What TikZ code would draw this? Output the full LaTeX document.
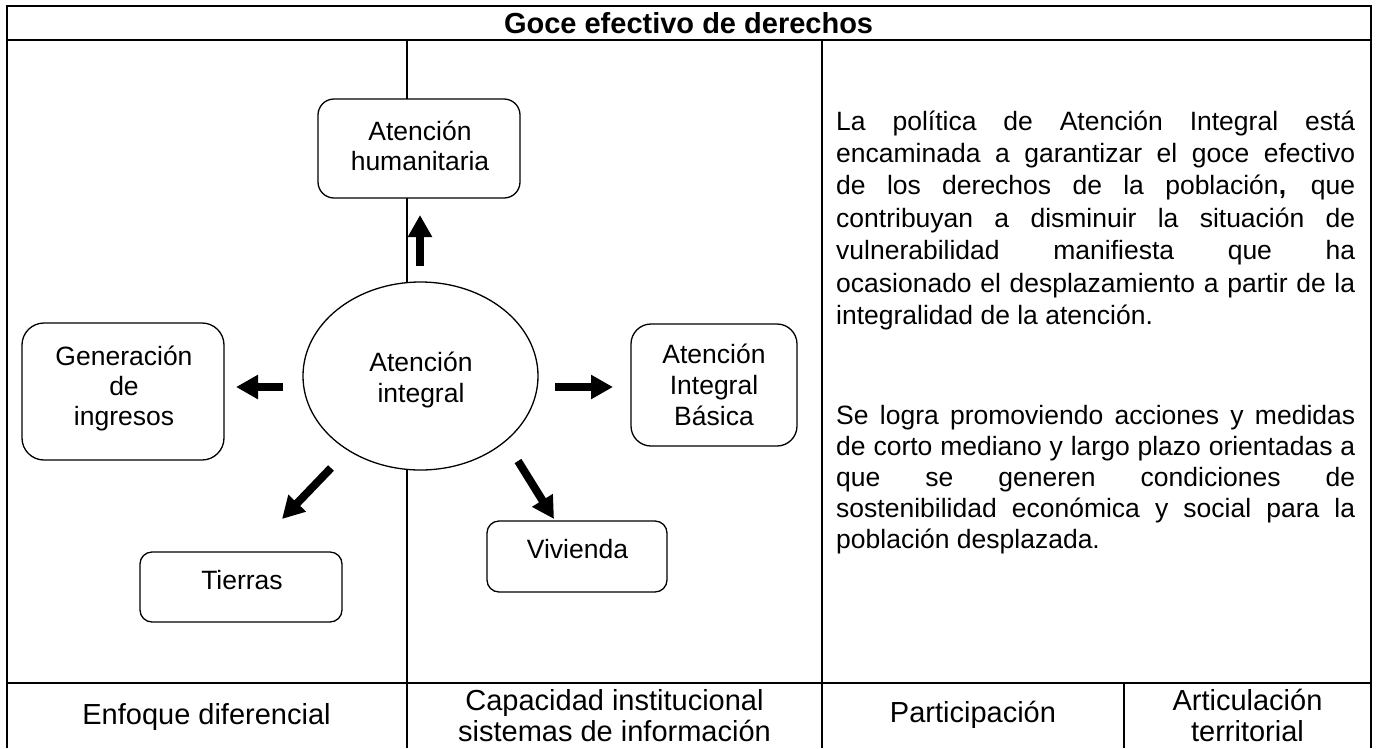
\documentclass[tikz,border=0pt]{standalone}
\usepackage{fontspec}
\setmainfont{Liberation Sans}
\usetikzlibrary{arrows.meta,shapes.geometric}
\tikzset{
  frameline/.style={line width=2pt, line join=miter},
  gridline/.style={line width=1.8pt},
  rbox/.style={draw, line width=1.3pt, fill=white, rounded corners=#1, inner sep=0pt},
  oval/.style={draw, ellipse, line width=1.3pt, fill=white, inner sep=0pt},
  lbl/.style={inner sep=0pt, anchor=base, font=\fontsize{26.5}{30.6}\selectfont},
  lblb/.style={inner sep=0pt, anchor=base, font=\fontsize{29}{31.7}\selectfont},
  bigarrow/.style={line width=8pt, -{Triangle[length=22pt,width=23pt]}},
  body/.style={inner sep=0pt, anchor=base west, font=\fontsize{26.5}{#1}\selectfont}
}
\newcommand{\jline}[1]{\makebox[519pt][s]{#1}}
\begin{document}
\begin{tikzpicture}[x=1pt,y=-1pt]
\useasboundingbox (0,0) rectangle (1377,748);
\fill[white] (0,0) rectangle (1377,748);

% table frame
\draw[frameline] (6.5,748) -- (6.5,6) -- (1370.7,6) -- (1370.7,748);
\draw[frameline] (6.5,40) -- (1370.7,40);
\draw[frameline] (6.5,683) -- (1370.7,683);
\draw[gridline] (407,40) -- (407,748);
\draw[gridline] (822,40) -- (822,748);
\draw[gridline] (1124,683) -- (1124,748);

% title
\node[inner sep=0pt, anchor=base, font=\fontsize{29}{32}\selectfont\bfseries] (title) at (688.6,33) {Goce efectivo de derechos};

% shapes
\node[rbox=16pt, minimum width=202pt, minimum height=99pt] (hum) at (419,148.5) {};
\node[rbox=22pt, minimum width=202pt, minimum height=137pt] (gen) at (123,391.5) {};
\node[rbox=20pt, minimum width=166pt, minimum height=122pt] (bas) at (714,385) {};
\node[rbox=12pt, minimum width=180pt, minimum height=71pt] (viv) at (577,556.5) {};
\node[rbox=12pt, minimum width=202pt, minimum height=70pt] (tie) at (241,587) {};
\node[oval, minimum width=235pt, minimum height=188pt] (ell) at (420.5,376) {};

% labels
\node[lbl] (humt) at (420,140) {\parbox[t]{220pt}{\centering Atención\\humanitaria}};
\node[lbl] (ellt) at (421,371.7) {\parbox[t]{200pt}{\centering Atención\\integral}};
\node[lbl, font=\fontsize{26.5}{30}\selectfont] (gent) at (124,365) {\parbox[t]{200pt}{\centering Generación\\de\\ingresos}};
\node[lbl, font=\fontsize{26.5}{31}\selectfont] (bast) at (714,363.3) {\parbox[t]{160pt}{\centering Atención\\Integral\\Básica}};
\node[lbl] (vivt) at (577.5,558.3) {Vivienda};
\node[lbl] (tiet) at (242,589) {Tierras};

% arrows
\coordinate (u1) at (420,266); \coordinate (u2) at (420,215);
\coordinate (l1) at (283,387); \coordinate (l2) at (236,387);
\coordinate (r1) at (555,387); \coordinate (r2) at (613,387);
\coordinate (dl1) at (331,468); \coordinate (dl2) at (282,519);
\coordinate (dr1) at (518,461); \coordinate (dr2) at (554,519);
\draw[bigarrow] (u1) -- (u2);
\draw[bigarrow] (l1) -- (l2);
\draw[bigarrow] (r1) -- (r2);
\draw[bigarrow] (dl1) -- (dl2);
\draw[bigarrow] (dr1) -- (dr2);

% body text
\node[body=32.4] (p1) at (836,130) {\parbox[t]{519pt}{%
\jline{La política de Atención Integral está}\\
\jline{encaminada a garantizar el goce efectivo}\\
\jline{de los derechos de la población\textbf{,} que}\\
\jline{contribuyan a disminuir la situación de}\\
\jline{vulnerabilidad manifiesta que ha}\\
\jline{ocasionado el desplazamiento a partir de la}\\
integralidad de la atención.}};
\node[body=31.2] (p2) at (836,424) {\parbox[t]{519pt}{%
\jline{Se logra promoviendo acciones y medidas}\\
\jline{de corto mediano y largo plazo orientadas a}\\
\jline{que se generen condiciones de}\\
\jline{sostenibilidad económica y social para la}\\
población desplazada.}};

% bottom row
\node[lblb] (c1) at (206.5,724) {Enfoque diferencial};
\node[lblb] (c2) at (614.5,710) {\parbox[t]{400pt}{\centering Capacidad institucional\\sistemas de información}};
\node[lblb] (c3) at (973,722) {Participación};
\node[lblb] (c4) at (1247.5,710) {\parbox[t]{240pt}{\centering Articulación\\territorial}};
\end{tikzpicture}
\end{document}
